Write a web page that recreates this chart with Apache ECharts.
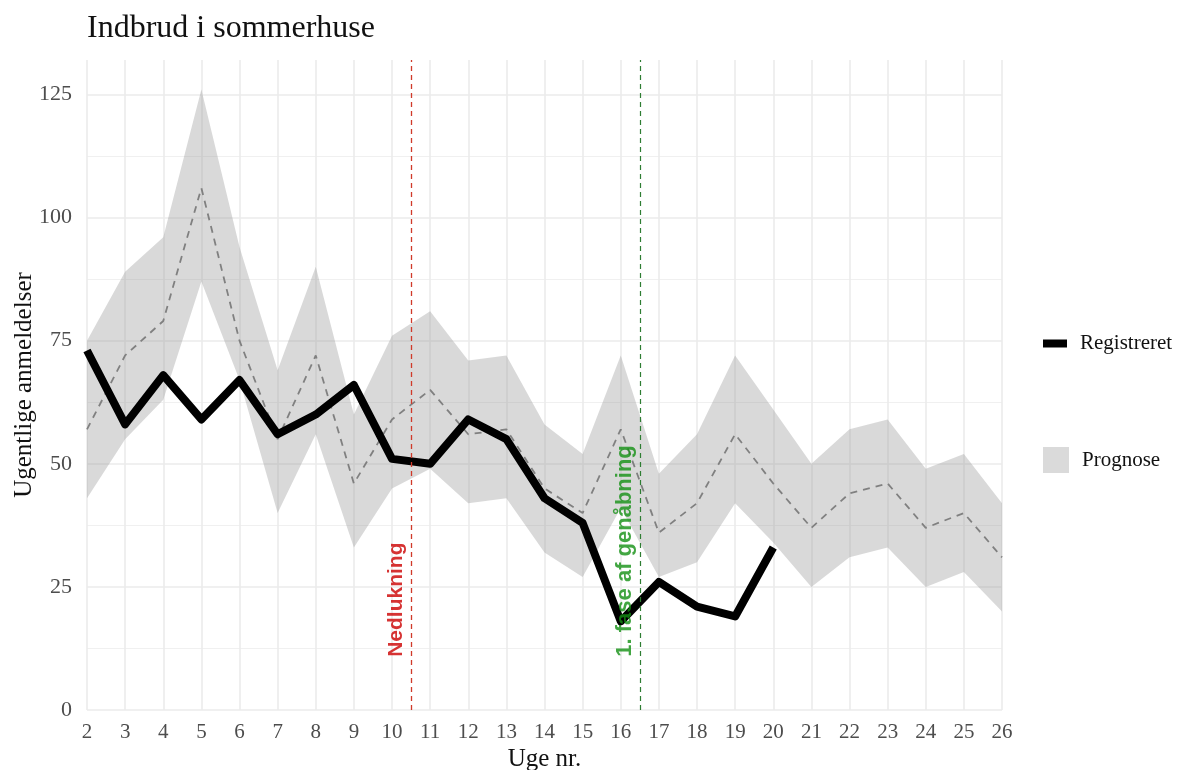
<!DOCTYPE html>
<html>
<head>
<meta charset="utf-8">
<script src="https://cdn.jsdelivr.net/npm/echarts@6/dist/echarts.min.js"></script>
<style>
html,body{margin:0;padding:0;background:#fff;}
#chart{width:1179px;height:770px;}
</style>
</head>
<body>
<div id="chart"></div>
<script>
// Weeks (x axis)
const weeks = [2,3,4,5,6,7,8,9,10,11,12,13,14,15,16,17,18,19,20,21,22,23,24,25,26];
// Registered reports (weeks 2..20)
const registreret = [73,58,68,59,67,56,60,66,51,50,59,55,43,38,18,26,21,19,33];
// Forecast mean (dashed)
const prognoseMean = [57,72,79,106,75,55,72,46,59,65,56,57,45,40,57,36,42,56,46,37,44,46,37,40,31];
// Forecast band
const prognoseUpper = [75,89,96,126,94,69,90,60,76,81,71,72,58,52,72,48,56,72,61,50,57,59,49,52,42];
const prognoseLower = [43,55,63,87,67,40,56,33,45,49,42,43,32,27,41,27,30,42,34,25,31,33,25,28,20];
// Event lines and annotations
const eventX = [10.5, 16.5];
const eventLabels = ['Nedlukning', '1. fase af genåbning'];
const eventLabelX = [10.1, 16.1];
const eventLabelY = [22.4, 32.3];
const yTicks = [0,25,50,75,100,125];

const serif = "'Liberation Serif','Times New Roman',serif";
const sans = "'Liberation Sans',Arial,sans-serif";
const bandColor = 'rgba(150,150,150,0.36)';
const redCol = '#cc0000';
const greenCol = '#139013';

const chart = echarts.init(document.getElementById('chart'));
const option = {
  animation: false,
  backgroundColor: '#ffffff',
  title: {
    text: 'Indbrud i sommerhuse',
    left: 82, top: 8,
    textStyle: {fontFamily: serif, fontSize: 32, fontWeight: 'normal', color: '#111'}
  },
  legend: [
    {
      data: ['Registreret'], left: 1038, top: 328, orient: 'vertical',
      icon: 'rect', itemWidth: 24, itemHeight: 8,
      textStyle: {fontFamily: serif, fontSize: 21, color: '#111', padding: [0,0,0,8]},
      selectedMode: false
    },
    {
      data: [{name: 'Prognose', itemStyle: {color: '#dadada'}}], left: 1038, top: 442, orient: 'vertical',
      icon: 'rect', itemWidth: 26, itemHeight: 26,
      textStyle: {fontFamily: serif, fontSize: 21, color: '#111', padding: [0,0,0,8]},
      selectedMode: false
    }
  ],
  grid: {left: 87, right: 177, top: 60, bottom: 60, containLabel: false, outerBoundsMode: 'none'},
  xAxis: {
    type: 'value', min: 2, max: 26, interval: 1,
    name: 'Uge nr.', nameLocation: 'middle', nameGap: 37, nameMoveOverlap: false,
    nameTextStyle: {fontFamily: serif, fontSize: 25, color: '#111'},
    axisLine: {show: false}, axisTick: {show: false},
    axisLabel: {fontFamily: serif, fontSize: 21, color: '#4d4d4d', margin: 12},
    splitLine: {show: true, lineStyle: {color: '#ebebeb', width: 1.6}}
  },
  yAxis: [
    {
      type: 'value', min: 0, max: 132, interval: 25,
      name: 'Ugentlige anmeldelser', nameLocation: 'middle', nameGap: 50, nameMoveOverlap: false,
      nameTextStyle: {fontFamily: serif, fontSize: 25, color: '#111'},
      axisLine: {show: false}, axisTick: {show: false},
      axisLabel: {fontFamily: serif, fontSize: 22, color: '#4d4d4d', margin: 15, showMaxLabel: false,
        formatter: v => (yTicks.indexOf(v) >= 0 ? String(v) : '')},
      splitLine: {show: true, showMaxLine: false, lineStyle: {color: '#ebebeb', width: 1.6}}
    },
    {
      type: 'value', min: 0, max: 132, interval: 12.5, position: 'left',
      axisLine: {show: false}, axisTick: {show: false}, axisLabel: {show: false},
      splitLine: {show: true, showMaxLine: false, lineStyle: {color: '#f0f0f0', width: 1}}
    }
  ],
  series: [
    {
      name: 'Prognose', type: 'custom', silent: true, z: 1,
      itemStyle: {color: '#dadada'},
      data: weeks.map((w, i) => [w, prognoseLower[i], prognoseUpper[i]]),
      renderItem: function (params, api) {
        if (params.dataIndex !== 0) return null;
        const pts = [];
        for (let i = 0; i < weeks.length; i++) pts.push(api.coord([weeks[i], prognoseUpper[i]]));
        for (let i = weeks.length - 1; i >= 0; i--) pts.push(api.coord([weeks[i], prognoseLower[i]]));
        return {type: 'polygon', shape: {points: pts}, style: {fill: bandColor}};
      }
    },
    {
      name: 'Forventet', type: 'line', symbol: 'none', silent: true,
      data: weeks.map((w, i) => [w, prognoseMean[i]]),
      lineStyle: {color: '#808080', width: 1.8, type: [7, 6]}, z: 2
    },
    {
      name: 'evt1', type: 'line', data: [], silent: true, z: 2,
      markLine: {symbol: 'none', silent: true, label: {show: false},
        lineStyle: {color: '#d03a2a', width: 1.3, type: [5, 4]},
        data: [{xAxis: eventX[0]}]}
    },
    {
      name: 'evt2', type: 'line', data: [], silent: true, z: 2,
      markLine: {symbol: 'none', silent: true, label: {show: false},
        lineStyle: {color: '#2e7d32', width: 1.2, type: [5, 4]},
        data: [{xAxis: eventX[1]}]}
    },
    {
      name: 'Registreret', type: 'line', symbol: 'none', silent: true,
      data: registreret.map((v, i) => [weeks[i], v]),
      itemStyle: {color: '#000'},
      lineStyle: {color: '#000', width: 8, join: 'round'}, z: 3
    },
    {
      name: 'annot', type: 'scatter', symbolSize: 1, silent: true, z: 4,
      itemStyle: {color: 'transparent'},
      data: eventLabels.map((t, i) => ({
        value: [eventLabelX[i], eventLabelY[i]],
        label: {show: true, position: 'inside', rotate: 90, formatter: t,
          fontFamily: sans, fontWeight: 'bold', fontSize: i === 0 ? 21 : 22, color: i === 0 ? redCol : greenCol}
      }))
    }
  ]
};
chart.setOption(option);
</script>
</body>
</html>
